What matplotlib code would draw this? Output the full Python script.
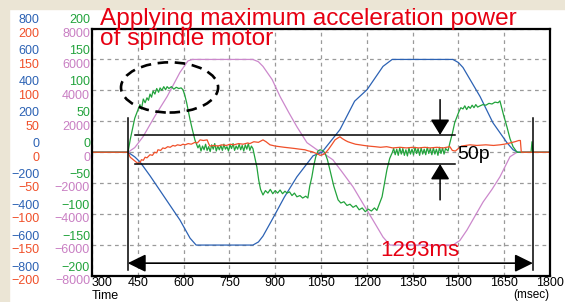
import numpy as np
import matplotlib.pyplot as plt
from matplotlib.patches import Ellipse, Rectangle

plt.rcParams['font.family'] = ['Liberation Sans', 'DejaVu Sans']

# time in msec, values in each trace's own units
pink_t = [300, 418, 440, 467, 505, 546, 588, 614, 628, 827, 845, 860, 890, 916, 945, 971, 1004, 1037, 1053,
          1089, 1120, 1155, 1190, 1220, 1253, 1276, 1482, 1505, 1528, 1555, 1581, 1610, 1636, 1669, 1692, 1800]
pink_v = [0, 0, 300, 1000, 2300, 3600, 5160, 5900, 6000, 6000, 5850, 5550, 4700, 3600, 2550, 1650, 620, 160, 0,
          -490, -1300, -2240, -3400, -4380, -5480, -6000, -6000, -5700, -5030, -4100, -3210, -2400, -1590, -290, 0, 0]

blue_t = [300, 418, 440, 457, 490, 539, 588, 621, 641, 827, 845, 860, 893, 930, 971, 1024, 1053,
          1112, 1160, 1201, 1253, 1283, 1482, 1500, 1515, 1571, 1613, 1659, 1679, 1695, 1800]
blue_v = [0, 0, -30, -62, -152, -295, -438, -555, -600, -600, -580, -542, -425, -290, -159, -23, 0,
          146, 330, 405, 555, 600, 600, 580, 548, 360, 191, 62, 16, 0, 0]

red_t = [300, 418, 425, 440, 450, 457, 462, 468, 474, 480, 490, 498, 505, 512, 516, 525, 532, 539, 548, 556,
         565, 572, 580, 590, 598, 605, 615, 625, 637, 645, 654, 665, 677, 682, 686, 700, 712, 725, 740, 752,
         765, 780, 795, 810, 817, 830, 845, 860, 870, 883, 900, 915, 930, 948, 965, 980, 997, 1010, 1020, 1030,
         1040, 1047, 1055, 1063, 1075, 1085, 1096, 1105, 1112, 1120, 1130, 1138, 1150, 1163, 1177, 1190, 1205,
         1227, 1245, 1265, 1285, 1309, 1330, 1350, 1370, 1390, 1407, 1430, 1450, 1472, 1480, 1490, 1500, 1510,
         1538, 1560, 1590, 1615, 1636, 1650, 1669, 1685, 1698, 1703, 1706, 1800]
red_v = [0, 0, -8, -14, -18, -17, -12, -13, -8, -9, -4, -5, 0, -1, 4, 3, 7, 6, 9, 8,
         11, 10, 12, 11, 13, 12, 14, 13, 16, 15, 20, 19, 20, 14, 10, 11, 10, 12, 11, 13,
         12, 14, 13, 15, 14, 17, 16, 20, 17, 12, 10, 9, 8, 7, 6, 5, 4, 2, 1, -1,
         -3, -5, -4, -2, 5, 12, 20, 23, 25, 22, 19, 17, 15, 13, 12, 11, 10,
         9, 8, 9, 7, 8, 7, 8, 7, 8, 7, 8, 7, 9, 3, 2, 6, 10,
         12, 11, 12, 11, 12, 13, 15, 17, 19, 19, 0, 0]

green_t = [300, 418, 425, 440, 457, 462, 468, 474, 480, 485, 490, 495, 500, 506, 512, 518, 523, 529, 535, 541,
           546, 552, 560, 568, 576, 584, 592, 598, 604, 610, 616, 621, 628, 637, 647,
           652, 657, 662, 667, 672, 677, 682, 687, 692, 697, 702, 707, 712, 717, 722, 727, 732, 737, 742, 747,
           752, 757, 762, 767, 772, 777, 782, 787, 792, 797, 802, 807, 812, 817, 822, 827,
           834, 840, 846, 852, 860, 868, 876, 884, 892, 900, 908, 916, 924, 932, 939, 947, 955, 963, 971, 981,
           990, 1000, 1007, 1013, 1020, 1027, 1033, 1040, 1047, 1055, 1063, 1071, 1079, 1092, 1106, 1115, 1125,
           1135, 1145, 1155, 1165, 1175, 1185, 1195, 1205, 1215, 1225, 1233, 1240, 1250, 1258, 1266, 1275, 1283,
           1288, 1293, 1298, 1303, 1308, 1313, 1318, 1323, 1328, 1333, 1338, 1343, 1348, 1353, 1358, 1363, 1368,
           1373, 1378, 1383, 1388, 1393, 1398, 1403, 1408, 1413, 1418, 1423, 1428, 1433, 1438, 1443, 1448, 1453,
           1458, 1466, 1472, 1480, 1488, 1495, 1502, 1508, 1515, 1521, 1527, 1533, 1539, 1545, 1551, 1557, 1563,
           1571, 1580, 1590, 1600, 1610, 1620, 1630, 1636, 1648, 1659, 1669, 1679, 1692, 1738, 1741, 1744, 1800]
green_v = [0, 0, 20, 55, 77, 70, 86, 80, 88, 84, 94, 89, 99, 94, 103, 97, 104, 100, 106, 101,
           106, 103, 106, 102, 105, 103, 104, 101, 92, 80, 65, 53, 38, 20, 7,
           12, 2, 10, 4, 13, 3, 9, 1, 12, 5, 14, 2, 10, 4, 11, 3, 13, 5, 9, 2,
           12, 6, 14, 3, 10, 5, 13, 4, 11, 2, 12, 5, 14, 3, 10, 6,
           -10, -24, -45, -60, -69, -62, -66, -60, -67, -62, -66, -61, -67, -63, -66, -64, -70, -66, -72, -70,
           -74, -71, -74, -55, -40, -20, -7, 2, 4, 3, -1, -12, -28, -55, -77, -82, -80,
           -86, -84, -89, -86, -93, -90, -96, -92, -95, -90, -94, -85, -72, -50, -28, -10, -1,
           6, -4, 5, -5, 7, -3, 6, -5, 4, -6, 7, -3, 5, -4, 8, -2, 6,
           -5, 7, -3, 5, -4, 8, -2, 6, -4, 7, -3, 5, -5, 8, -2, 7, -3,
           6, 2, 15, 30, 48, 57, 66, 72, 70, 75, 69, 74, 71, 76, 72, 77, 73,
           75, 77, 76, 79, 78, 81, 80, 83, 60, 41, 22, 9, 0, 0, 17, 0, 0]

x_ticks = [300, 450, 600, 750, 900, 1050, 1200, 1350, 1500, 1650, 1800]
y_ticks = [8000, 6000, 4000, 2000, 0, -2000, -4000, -6000, -8000]

c_blue = '#2c62b4'
c_red = '#f0502a'
c_green = '#22a33c'
c_pink = '#cc88cc'

fig = plt.figure(figsize=(5.65, 3.02), dpi=100)
fig.patches.append(Rectangle((0, 1 - 9 / 302), 1, 9 / 302, transform=fig.transFigure,
                             color='#ebe5d5', zorder=0))
fig.patches.append(Rectangle((0, 0), 9 / 565, 1, transform=fig.transFigure,
                             color='#ebe5d5', zorder=0))
ax = fig.add_axes([92 / 565, 1 - 276 / 302, 458 / 565, 247.5 / 302])

ax.plot(pink_t, pink_v, color=c_pink, lw=0.9)
ax.plot(blue_t, np.array(blue_v) * 10, color=c_blue, lw=0.9)
ax.plot(green_t, np.array(green_v) * 40, color=c_green, lw=0.9)
ax.plot(red_t, np.array(red_v) * 40, color=c_red, lw=0.9)

ax.set_xlim(300, 1800)
ax.set_ylim(-8000, 8000)
ax.set_xticks(x_ticks)
ax.set_xticklabels([str(t) for t in x_ticks])
ax.get_xticklabels()[0].set_ha('left')
ax.set_yticks(y_ticks)
ax.set_yticklabels([])
ax.tick_params(length=0, pad=0.5, labelsize=9)
ax.grid(True, color='#9a9a9a', linestyle=(0, (3, 3)), linewidth=0.9)
for s in ax.spines.values():
    s.set_linewidth(1.6)

def fmt(v):
    return str(int(v)).replace('-', '\u2212')

for v in y_ticks:
    tr = ax.get_yaxis_transform()
    ax.annotate(fmt(v / 10), xy=(0, v), xycoords=tr, xytext=(-38, 5.8), textcoords='offset points',
                ha='right', va='center', color=c_blue, fontsize=9, annotation_clip=False)
    ax.annotate(fmt(v / 40), xy=(0, v), xycoords=tr, xytext=(-38, -3.8), textcoords='offset points',
                ha='right', va='center', color=c_red, fontsize=9, annotation_clip=False)
    ax.annotate(fmt(v / 40), xy=(0, v), xycoords=tr, xytext=(-1.4, 5.8), textcoords='offset points',
                ha='right', va='center', color=c_green, fontsize=9, annotation_clip=False)
    ax.annotate(fmt(v), xy=(0, v), xycoords=tr, xytext=(-1.4, -3.8), textcoords='offset points',
                ha='right', va='center', color='#c97fc3', fontsize=9, annotation_clip=False)

fig.text(92 / 565, 1 - 296 / 302, 'Time', fontsize=9, va='center', ha='left')
fig.text(549 / 565, 1 - 295 / 302, '(msec)', fontsize=8.5, va='center', ha='right')

fig.text(100 / 565, 1 - 45.5 / 302, 'Applying maximum acceleration power\nof spindle motor',
         fontsize=17.6, color='#e60012', va='baseline', ha='left', linespacing=0.9, zorder=5)

# annotations
ax.add_patch(Ellipse((554, 4190), 318, 3245, fill=False, ec='black', lw=1.9,
                     linestyle=(0, (4, 2.5)), zorder=4))
ax.plot([417, 417], [2240, -7625], color='black', lw=1.1)
ax.plot([1744, 1744], [2240, -7625], color='black', lw=1.1)
ax.annotate('', xy=(417, -7170), xytext=(1744, -7170),
            arrowprops=dict(arrowstyle='<|-|>,head_length=1.1,head_width=0.54', mutation_scale=10,
                            color='black', lw=1.2, shrinkA=0, shrinkB=0))
ax.text(1374, -6330, '1293ms', fontsize=16, color='#e60012', ha='center', va='center')

ax.plot([441, 1489], [1120, 1120], color='black', lw=1.1)
ax.plot([441, 1489], [-760, -760], color='black', lw=1.1)
ax.annotate('', xy=(1440, 1120), xytext=(1440, 3400),
            arrowprops=dict(arrowstyle='-|>,head_length=0.95,head_width=0.58', mutation_scale=10,
                            color='black', lw=1.1, shrinkA=0, shrinkB=0))
ax.annotate('', xy=(1440, -760), xytext=(1440, -3080),
            arrowprops=dict(arrowstyle='-|>,head_length=0.95,head_width=0.58', mutation_scale=10,
                            color='black', lw=1.1, shrinkA=0, shrinkB=0))
ax.text(1495, -160, '50p', fontsize=14, color='black', ha='left', va='center')

fig.savefig('out.png', dpi=100)
